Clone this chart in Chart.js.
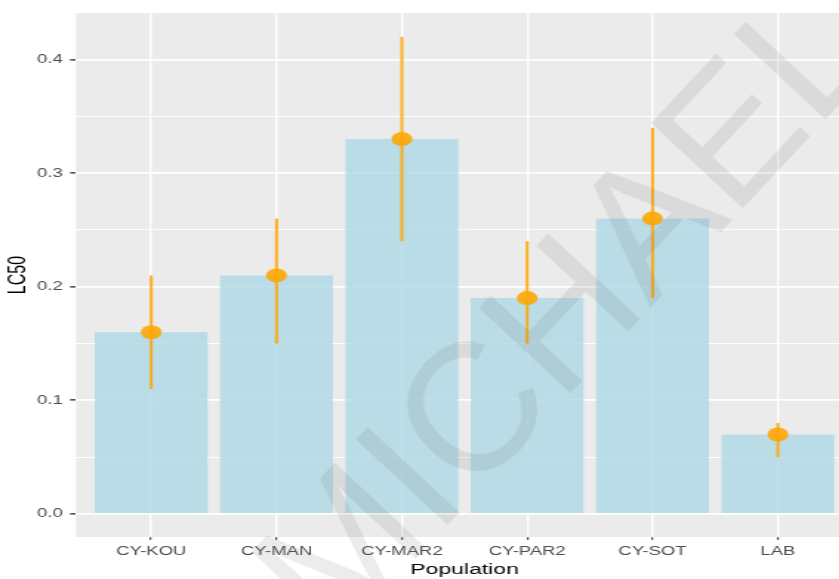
<!DOCTYPE html>
<html>
<head>
<meta charset="utf-8">
<script src="https://cdn.jsdelivr.net/npm/chart.js@4/dist/chart.umd.min.js"></script>
<style>
  html, body { margin: 0; padding: 0; background: #ffffff; overflow: hidden; width: 839px; height: 579px; }
  #wrap { width: 600px; height: 579px; transform: scaleX(1.48); transform-origin: 0 0; }
</style>
</head>
<body>
<div id="wrap"><canvas id="chart" width="600" height="579"></canvas></div>
<script>
// Populations and their LC50 estimates with confidence limits
const populations = ['CY-KOU', 'CY-MAN', 'CY-MAR2', 'CY-PAR2', 'CY-SOT', 'LAB'];
const lc50  = [0.16, 0.21, 0.33, 0.19, 0.26, 0.07];
const lower = [0.11, 0.15, 0.24, 0.15, 0.19, 0.05];
const upper = [0.21, 0.26, 0.42, 0.24, 0.34, 0.08];
const yTicks = [0, 0.05, 0.1, 0.15, 0.2, 0.25, 0.3, 0.35, 0.4];

const STRETCH = 1.48;
const PANEL_BG = '#EBEBEB';
const ORANGE = 'rgba(255,165,0,0.88)';

const isMajor = v => Math.abs(Math.round(v * 10) - v * 10) < 1e-6;

// grey panel behind the plot area
const panelBg = {
  id: 'panelBg',
  beforeDraw(chart) {
    const { ctx, chartArea: a } = chart;
    ctx.save();
    ctx.fillStyle = PANEL_BG;
    ctx.fillRect(a.left, a.top, a.right - a.left, a.bottom - a.top);
    ctx.restore();
  }
};

// diagonal name stamp across the figure
const stamp = {
  id: 'stamp',
  afterDraw(chart) {
    const ctx = chart.ctx;
    ctx.save();
    ctx.scale(1 / STRETCH, 1);
    ctx.translate(572, 318);
    ctx.rotate(-47 * Math.PI / 180);
    ctx.font = 'normal 182px "Liberation Sans", Arial, sans-serif';
    ctx.fillStyle = 'rgba(110,110,110,0.13)';
    ctx.textAlign = 'center';
    ctx.textBaseline = 'middle';
    ctx.fillText('MICHAEL', 0, 0);
    ctx.restore();
  }
};

const errorBarSets = populations.map((p, i) => ({
  type: 'line',
  label: p + ' CI',
  data: [{ x: i, y: lower[i] }, { x: i, y: upper[i] }],
  borderColor: ORANGE,
  borderWidth: 2,
  pointRadius: 0,
  fill: false,
  order: 2
}));

new Chart(document.getElementById('chart'), {
  type: 'bar',
  data: {
    datasets: [
      {
        type: 'bar',
        label: 'LC50',
        data: populations.map((p, i) => ({ x: i, y: lc50[i] })),
        backgroundColor: 'rgba(173,216,230,0.8)',
        borderWidth: 0,
        barPercentage: 0.9,
        categoryPercentage: 1,
        order: 3
      },
      ...errorBarSets,
      {
        type: 'line',
        label: 'estimate',
        data: populations.map((p, i) => ({ x: i, y: lc50[i] })),
        showLine: false,
        pointRadius: 7,
        pointBackgroundColor: ORANGE,
        pointBorderWidth: 0,
        order: 1
      }
    ]
  },
  options: {
    responsive: false,
    animation: false,
    devicePixelRatio: 1,
    layout: { padding: { left: 0, top: 13, right: 23.6, bottom: 0 } },
    plugins: { legend: { display: false }, tooltip: { enabled: false } },
    scales: {
      x: {
        type: 'linear',
        offset: false,
        min: -0.6,
        max: 5.6,
        afterBuildTicks(axis) { axis.ticks = populations.map((p, i) => ({ value: i })); },
        afterFit(axis) { axis.height = 42; },
        ticks: {
          autoSkip: false,
          maxRotation: 0,
          padding: 4,
          color: '#4D4D4D',
          font: { family: '"Liberation Sans", Arial, sans-serif', size: 12.5 },
          callback: v => populations[Math.round(v)]
        },
        grid: { offset: false, color: '#FFFFFF', lineWidth: 1.4, tickColor: '#333333', tickLength: 3, tickWidth: 1 },
        border: { display: false },
        title: {
          display: true,
          text: 'Population',
          color: '#000000',
          font: { family: '"Liberation Sans", Arial, sans-serif', size: 15.5 },
          padding: { top: 0, bottom: 0 }
        }
      },
      y: {
        min: -0.0203,
        max: 0.441,
        afterBuildTicks(axis) { axis.ticks = yTicks.map(v => ({ value: v })); },
        afterFit(axis) { axis.width = 51.35; },
        ticks: {
          autoSkip: false,
          padding: 5,
          color: '#4D4D4D',
          font: { family: '"Liberation Sans", Arial, sans-serif', size: 12.5 },
          callback: v => isMajor(v) ? v.toFixed(1) : ''
        },
        grid: {
          color: '#FFFFFF',
          lineWidth: c => isMajor(c.tick.value) ? 1.7 : 0.9,
          tickColor: c => isMajor(c.tick.value) ? '#333333' : 'rgba(0,0,0,0)',
          tickLength: 4,
          tickWidth: 1.4
        },
        border: { display: false },
        title: {
          display: true,
          text: 'LC50',
          color: '#000000',
          font: { family: '"Liberation Sans", Arial, sans-serif', size: 16 },
          padding: { top: 3, bottom: 0 }
        }
      }
    }
  },
  plugins: [panelBg, stamp]
});
</script>
</body>
</html>
